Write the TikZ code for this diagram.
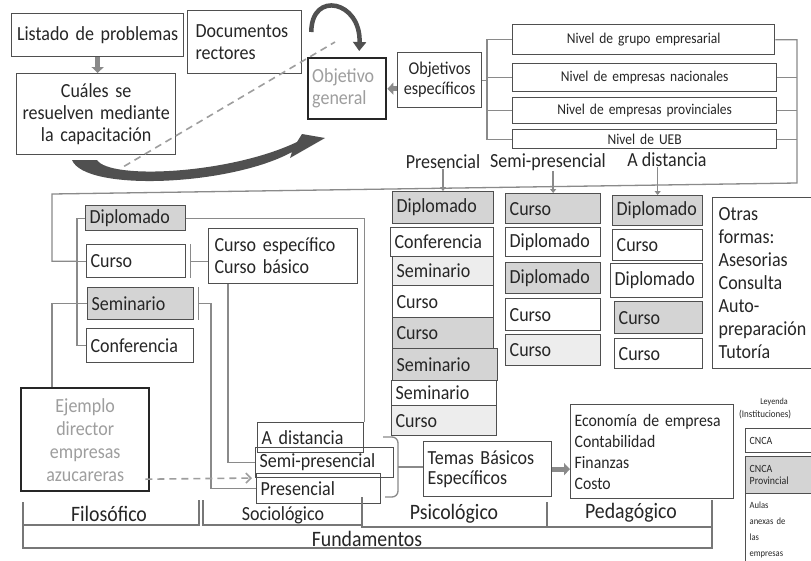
\documentclass[tikz,border=0pt]{standalone}
\usepackage{fontspec}
\setmainfont{Carlito}[FakeStretch=0.9]
\usetikzlibrary{arrows.meta,calc}
\definecolor{bd}{HTML}{4F4F4F}
\definecolor{tx}{HTML}{262626}
\definecolor{gf}{HTML}{D4D4D4}
\definecolor{lf}{HTML}{EDEDED}
\definecolor{ln}{HTML}{8A8A8A}
\definecolor{gt}{HTML}{9E9E9E}
\definecolor{dk}{HTML}{505050}
\definecolor{br}{HTML}{777777}
\newcommand\fs[2]{\fontsize{#1}{#2}\selectfont}
\newcommand\mybox[7]{\pgfmathsetmacro\bxtw{#4-8}\node[box,#6,minimum width=#4pt,minimum height=#5pt,text width=\bxtw pt] (#1) at (#2,#3) {#7};}
\begin{document}
\begin{tikzpicture}[x=1pt,y=-1pt,
  box/.style={draw=bd,line width=1.3pt,anchor=north west,inner xsep=4pt,inner ysep=1pt,text=tx,font=\fs{20}{22},align=left,
    execute at begin node={\hyphenpenalty=10000\exhyphenpenalty=10000\relax}},
  gbox/.style={fill=gf},
  lbox/.style={fill=lf},
  heavy/.style={line width=2.4pt,draw=black!85},
  conn/.style={draw=ln,line width=1.3pt},
  fat/.style={draw=ln,line width=5pt,-{Triangle[length=6pt,width=12pt]}},
  small/.style={draw=ln,line width=1.5pt,-{Triangle[length=4pt,width=6pt]}},
  dashline/.style={draw=gt,line width=1.6pt,dash pattern=on 7pt off 5pt},
  dasharrow/.style={draw=gt,line width=1.6pt,dash pattern=on 7pt off 5pt,-{Straight Barb[length=5pt,width=10pt]}},
  bar/.style={draw=br,line width=2.6pt},
  hdr/.style={text=tx,font=\fs{20}{22},inner sep=0pt},
  flab/.style={text=tx,font=\fs{22}{24},inner sep=0pt},
  legt/.style={text=tx,font=\fs{9}{10},inner sep=0pt}]
\fill[white] (0,0) rectangle (811,560);
\useasboundingbox (0,0) rectangle (811,560);

% ---- top part
\mybox{list}{11}{13}{172}{43}{align=center}{Listado de problemas}
\mybox{cual}{16}{73}{159}{81}{align=center}{Cuáles se\\resuelven mediante\\la capacitación}
\mybox{docs}{187}{10}{106}{63}{inner xsep=8pt}{Documentos\\rectores}
\mybox{objg}{307}{57}{78}{61}{heavy,text=gt}{Objetivo\\general}
\mybox{obje}{397}{52}{84}{55}{align=center,font=\fs{18}{20}}{Objetivos\\específicos}
\mybox{n1}{512}{24}{262}{30}{align=center,font=\fs{15}{16}}{Nivel de grupo empresarial}
\mybox{n2}{512}{63}{264}{28}{align=center,font=\fs{15}{16}}{Nivel de empresas nacionales}
\mybox{n3}{512}{97}{264}{26}{align=center,font=\fs{15}{16}}{Nivel de empresas provinciales}
\mybox{n4}{512}{129}{264}{19}{align=center,font=\fs{15}{16},inner ysep=0pt}{Nivel de UEB}

% headers
\node[hdr] (hp) at (443,162) {Presencial};
\node[hdr] (hs) at (548,162) {Semi-presencial};
\node[hdr] (hd) at (667,160) {A distancia};

% Presencial column
\mybox{p1}{392}{191}{101}{32}{gbox}{Diplomado}
\mybox{p2}{390}{227}{103}{29}{}{Conferencia}
\mybox{p3}{392}{256}{101}{29}{lbox}{Seminario}
\mybox{p4}{392}{285}{101}{32}{}{Curso}
\mybox{p5}{392}{317}{101}{31}{gbox}{Curso}
\mybox{p6}{392}{348}{105}{32}{gbox}{Seminario}
\mybox{p7}{391}{380}{105}{25}{}{Seminario}
\mybox{p8}{391}{405}{105}{30}{lbox}{Curso}

% Semi-presencial column
\mybox{s1}{505}{193}{95}{30}{gbox}{Curso}
\mybox{s2}{505}{227}{95}{29}{}{Diplomado}
\mybox{s3}{505}{262}{95}{31}{gbox}{Diplomado}
\mybox{s4}{505}{298}{95}{32}{}{Curso}
\mybox{s5}{505}{334}{95}{31}{lbox}{Curso}

% A distancia column
\mybox{d1}{612}{195}{90}{30}{gbox}{Diplomado}
\mybox{d2}{612}{229}{90}{31}{}{Curso}
\mybox{d3}{610}{263}{92}{34}{}{Diplomado}
\mybox{d4}{614}{301}{88}{32}{gbox}{Curso}
\mybox{d5}{614}{338}{88}{30}{}{Curso}

\mybox{otras}{712}{197}{105}{171}{font=\fs{20}{23},inner xsep=6pt}{Otras\\formas:\\Asesorias\\Consulta\\Auto-\\preparación\\Tutoría}

% left column
\mybox{l1}{85}{205}{100}{25}{gbox}{Diplomado}
\mybox{l2}{86}{244}{99}{33}{}{Curso}
\mybox{l3}{87}{287}{106}{32}{gbox}{Seminario}
\mybox{l4}{86}{328}{107}{34}{}{Conferencia}
\mybox{ce}{208}{228}{145}{55}{inner xsep=6pt}{Curso específico\\Curso básico}
\mybox{ej}{20}{387}{128}{103}{heavy,text=gt,align=center,font=\fs{20}{23}}{Ejemplo\\director\\empresas\\azucareras}
\mybox{ad}{257}{422}{106}{30}{}{A distancia}
\mybox{sp}{255}{447}{138}{30}{}{Semi-presencial}
\mybox{pr}{256}{473}{124}{30}{}{Presencial}
\mybox{tb}{423}{441}{128}{55}{font=\fs{20}{20}}{Temas Básicos\\Específicos}
\mybox{ec}{570}{404}{163}{94}{font=\fs{17.5}{21}}{Economía de empresa\\Contabilidad\\Finanzas\\Costo}

% legend
\node[legt] (ley) at (774,402) {Leyenda};
\node[legt,anchor=west,font=\fs{10}{11}] (ins) at (739,415) {(Instituciones)};
\mybox{lg1}{745}{428}{70}{24}{font=\fs{11}{12}}{CNCA}
\mybox{lg2}{745}{456}{70}{37}{gbox,font=\fs{11}{12}}{CNCA\\Provincial}
\mybox{lg3}{745}{493}{70}{72}{font=\fs{9.5}{16}}{Aulas\\anexas de\\las\\empresas}

% ---- connectors
\coordinate (nb) at (487,0);
\coordinate (frTR) at (797,183);
\coordinate (frTL) at (52,194);
\coordinate (lb) at (77,0);
\coordinate (sx) at (211,0);
\draw[conn] (obje.east) -- (nb |- obje.east);
\draw[conn] (n1.west) -| (nb |- n4.west) -- (n4.west);
\draw[conn] (n2.west) -- (nb |- n2.west);
\draw[conn] (n3.west) -- (nb |- n3.west);
\draw[conn] (n1.east) -| (frTR) -- (frTL) |- (lb |- l2.west);
\draw[conn] (n2.east) -- (frTR |- n2.east);
\draw[conn] (n3.east) -- (frTR |- n3.east);
\draw[conn] (n4.east) -- (frTR |- n4.east);
\draw[conn] (l1.west) -| (lb |- l4.west) -- (l4.west);
\draw[conn] (l2.west) -- (lb |- l2.west);
\draw[conn] (l3.west) -- (lb |- l3.west);
\draw[conn] (lb |- l3.west) -| (ej.north -| frTL);
\draw[conn] (l1.east) -| (ad.north east);
\draw[conn] ([xshift=4pt]l2.north east) -- ([xshift=4pt]l2.south east);
\draw[conn] ([xshift=4pt]l2.east) -- (ce.west |- l2.east);
\draw[conn] ([xshift=4pt]l3.north east) -- ([xshift=4pt]l3.south east);
\draw[conn] ([xshift=4pt]l3.east) -| (sx |- pr.west) -- (pr.west);
\draw[conn] ([xshift=20pt]ce.south west) |- (sp.west);
\coordinate (bT) at (383,437);
\coordinate (bM) at (398,467);
\coordinate (bB) at (385,497);
\draw[conn,rounded corners=6pt] (bT) -| (bM) |- (bB);
\draw[conn] (bM) -- (bM -| tb.west);

\draw[fat] (list.south) -- (list.south |- cual.north);
\draw[fat] (obje.west |- objg.east) -- (objg.east);
\draw[fat] (tb.east) -- (ec.west |- tb.east);
\draw[small] (hp.south) -- (hp.south |- p1.north);
\draw[small] (s1.north |- hs.south) -- (s1.north);
\draw[small] (d1.north |- hd.south) -- (d1.north);

\draw[dasharrow] ($(ej.east)+(-5,39.5)$) -- ($(pr.north west)+(-4,5)$);
\draw[dashline] ($(cual.south)+(28,11)$) -- ($(objg.north west)+(28,-15)$);

% curved arrows
\draw[dk,line width=4.5pt,-{Triangle[length=9pt,width=13pt]}] ($(docs.north east)+(9,22)$) .. controls +(0,-42) and +(2,-50) .. ($(objg.north)+(12,-6)$);
\fill[dk] (72,160) .. controls (85,192) and (230,186) .. (292,152) -- (290,158) -- (325,138) -- (302,134) -- (297,142) .. controls (230,174) and (110,180) .. (97,160) -- cycle;

% ---- fundamentos
\draw[bar] (23,502) -- (23,525) -- (199,525) -- (199,500);
\draw[bar] (203,500) -- (203,525) -- (362,525);
\draw[bar] (362,497) -- (362,527) -- (547,527) -- (547,502);
\draw[bar] (547,527) -- (712,527) -- (712,500);
\draw[bar] (23,525) -- (23,548) -- (712,548) -- (712,527);
\node[flab] (fil) at (109,514) {Filosófico};
\node[flab,font=\fs{20}{22}] (soc) at (283,515) {Sociológico};
\node[flab] (psi) at (454,514) {Psicológico};
\node[flab] (ped) at (631,513) {Pedagógico};
\node[flab] (fun) at (367,539) {Fundamentos};
\end{tikzpicture}
\end{document}
